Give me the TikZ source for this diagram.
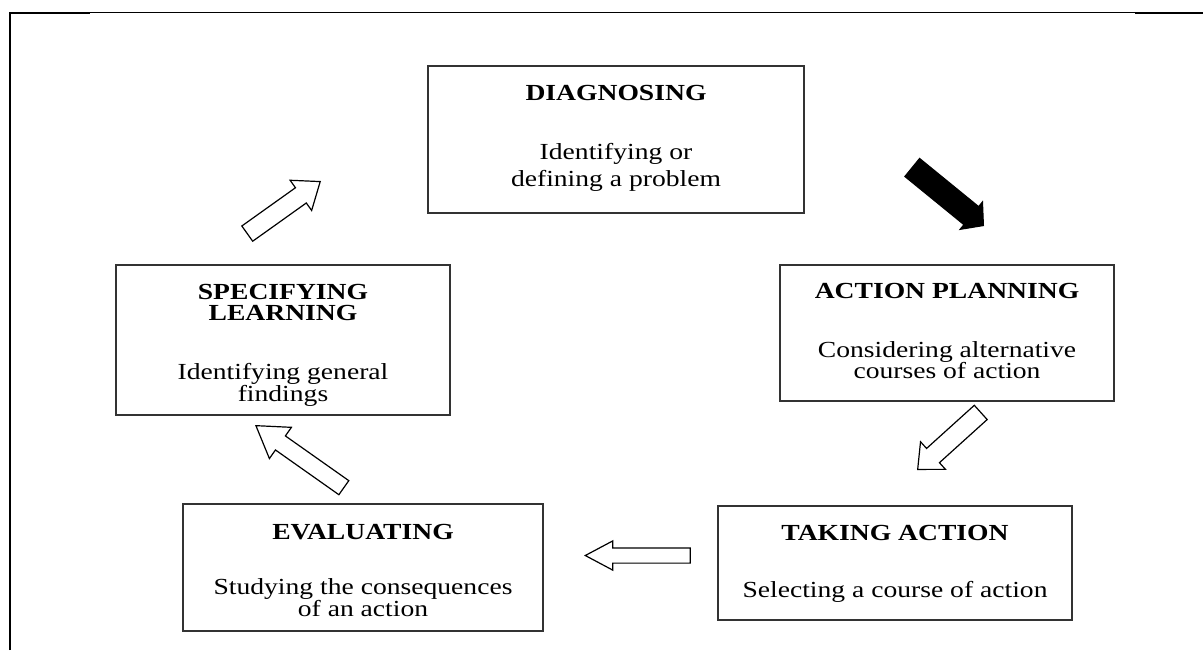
\documentclass[tikz,border=0pt]{standalone}
\usepackage{fontspec}
\setmainfont[FakeStretch=1.2]{Liberation Serif}
\usetikzlibrary{shapes.arrows}

\begin{document}
\begin{tikzpicture}[x=0.5pt, y=-0.5pt,
  stage/.style = {shape=rectangle, draw=black!80, line width=1pt},
  head/.style = {font=\fontsize{11.5}{10.7}\selectfont\bfseries,
    align=center, anchor=base, inner sep=0pt},
  body/.style = {font=\fontsize{11.5}{11}\selectfont,
    align=center, anchor=base, inner sep=0pt},
  hollow/.style = {single arrow, draw, line width=0.6pt, fill=white,
    inner xsep=0pt, single arrow head indent=0pt, anchor=tip}]
  \useasboundingbox (0,0) rectangle (1203,650);

  % frame
  \draw[line width=1pt] (10,650) -- (10,13) -- (90,13);
  \draw[line width=0.5pt] (90,12.7) -- (1135,12.7);
  \draw[line width=1pt] (1135,13) -- (1203,13);

  % stages (base = last line)
  \node[stage, minimum width=188pt, minimum height=73.5pt] (diag) at (616,139.5) {};
  \node[head] (diag-head) at (616,100) {DIAGNOSING};
  \node[body] (diag-body) at (616,186.7) {Identifying or\\[2.85pt]defining a problem};

  \node[stage, minimum width=167pt, minimum height=68pt] (plan) at (947,333) {};
  \node[head] (plan-head) at (947,298) {ACTION PLANNING};
  \node[body] (plan-body) at (947,378) {Considering alternative\\[-0.5pt]courses of action};

  \node[stage, minimum width=177pt, minimum height=57pt] (act) at (895,563) {};
  \node[head] (act-head) at (895,540) {TAKING ACTION};
  \node[body] (act-body) at (895,597) {Selecting a course of action};

  \node[stage, minimum width=180pt, minimum height=63.5pt] (eval) at (363,567.5) {};
  \node[head] (eval-head) at (363,539) {EVALUATING};
  \node[body] (eval-body) at (363,616) {Studying the consequences\\of an action};

  \node[stage, minimum width=167pt, minimum height=75pt] (spec) at (283,340) {};
  \node[head] (spec-head) at (283,320.7) {SPECIFYING\\LEARNING};
  \node[body] (spec-body) at (283,401.7) {Identifying general\\findings};

  % arrows between stages (placed by their tips)
  \node[hollow, rotate=35.5, minimum height=44.8pt, inner ysep=4.375pt,
    single arrow head extend=4.6pt, single arrow tip angle=76] (spec-diag) at (321,181) {};
  \node[hollow, fill=black, inner ysep=5.5pt, rotate=-39.2,
    minimum height=45.9pt, single arrow head extend=3pt,
    single arrow tip angle=97] (diag-plan) at (984,226) {};
  \node[hollow, rotate=222.1, minimum height=42.5pt, inner ysep=4.5pt,
    single arrow head extend=4.5pt, single arrow tip angle=84] (plan-act) at (917,470) {};
  \node[hollow, rotate=180, minimum height=52.5pt, inner ysep=3.5pt,
    single arrow head extend=3.5pt, single arrow tip angle=56] (act-eval) at (584,555.5) {};
  \node[hollow, rotate=144.8, minimum height=53.8pt, inner ysep=4pt,
    single arrow head extend=5.25pt, single arrow tip angle=65] (eval-spec) at (255,425) {};
\end{tikzpicture}
\end{document}
